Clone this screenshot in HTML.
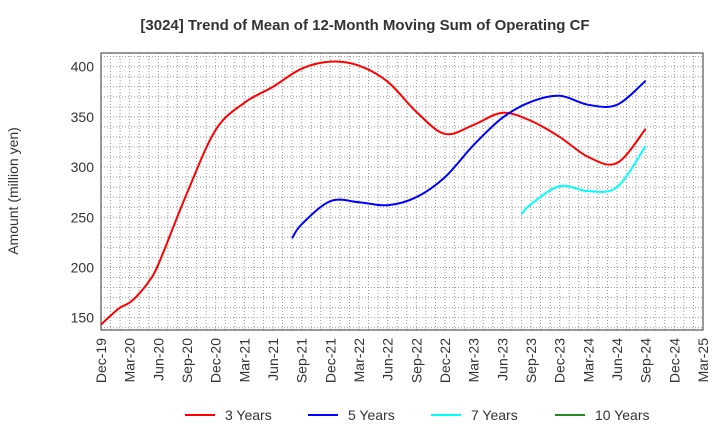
<!DOCTYPE html>
<html><head><meta charset="utf-8"><style>
body{margin:0;background:#fff;font-family:"Liberation Sans",sans-serif;}
svg text{font-family:"Liberation Sans",sans-serif;}
</style></head><body>
<svg id="chart" width="720" height="440">
<text x="365" y="30" text-anchor="middle" font-size="15" font-weight="bold" fill="#333">[3024]  Trend of Mean of 12-Month Moving Sum of Operating CF</text>
<text transform="translate(18,191) rotate(-90)" text-anchor="middle" font-size="14" fill="#333">Amount (million yen)</text>
<g id="grid"></g><g id="axes"></g><g id="series"></g><g id="legend"></g>
</svg>
<script>
const xLabels=["Dec-19","Mar-20","Jun-20","Sep-20","Dec-20","Mar-21","Jun-21","Sep-21","Dec-21","Mar-22","Jun-22","Sep-22","Dec-22","Mar-23","Jun-23","Sep-23","Dec-23","Mar-24","Jun-24","Sep-24","Dec-24","Mar-25"];
const yTicks=[150,200,250,300,350,400];
const m3=[0,1,2,3,4,5,6,9,12,15,18,21,24,27,30,33,36,39,42,45,48,51,54,57];
const v3=[143,152,160,165,174,186,203,274,337,364,380,398,405,401,385,355,333,342,354,346,330,310,304,338];
const m5=[20,21,24,27,30,33,36,39,42,45,48,51,54,57];
const v5=[229,243,266,265,262,270,290,322,349,365,371,362,362,386];
const m7=[44,45,48,51,54,57];
const v7=[253,263,281,276,280,321];
const seriesNames=["3 Years","5 Years","7 Years","10 Years"];
const colors=["#ff0000","#0000ff","#00ffff","#228b22"];
const L=101,R=703,T=53,B=330,VMIN=137.7,VMAX=413.6,MMAX=63;
const xs=m=>L+(R-L)*m/MMAX;
const ys=v=>B-(B-T)*(v-VMIN)/(VMAX-VMIN);
const NS="http://www.w3.org/2000/svg";
function mk(t,a,p){const e=document.createElementNS(NS,t);for(const k in a)e.setAttribute(k,a[k]);p.appendChild(e);return e;}
const grid=document.getElementById('grid'),axes=document.getElementById('axes'),ser=document.getElementById('series'),leg=document.getElementById('legend');
for(let m=1;m<MMAX;m++){const l=mk('line',{x1:xs(m),x2:xs(m),y1:T,y2:B,stroke:'#999','stroke-dasharray':'1,2','stroke-width':1},grid);

}
for(let v=140;v<=410;v+=10){const l=mk('line',{x1:L,x2:R,y1:ys(v),y2:ys(v),stroke:'#999','stroke-dasharray':'1,2','stroke-width':1},grid);

}
const fr=mk('rect',{x:L,y:T,width:R-L,height:B-T,fill:'none',stroke:'#333'},axes);


yTicks.forEach(v=>{const t=mk('text',{x:L-7,y:ys(v)+5,'text-anchor':'end','font-size':14,fill:'#333'},axes);t.textContent=v;

});
xLabels.forEach((s,i)=>{const x=xs(i*3);const t=mk('text',{transform:`translate(${x+5},${B+8}) rotate(-90)`,'text-anchor':'end','font-size':14,fill:'#333'},axes);t.textContent=s;

});
function path(ms,vs){const p=ms.map((m,i)=>[xs(m),ys(vs[i])]);let d=`M${p[0][0]},${p[0][1]}`;
for(let i=0;i<p.length-1;i++){const p0=p[i-1]||p[i],p1=p[i],p2=p[i+1],p3=p[i+2]||p2;
d+=` C${p1[0]+(p2[0]-p0[0])/6},${p1[1]+(p2[1]-p0[1])/6} ${p2[0]-(p3[0]-p1[0])/6},${p2[1]-(p3[1]-p1[1])/6} ${p2[0]},${p2[1]}`;}return d;}
[[m3,v3],[m5,v5],[m7,v7]].forEach((s,i)=>{const e=mk('path',{d:path(s[0],s[1]),fill:'none',stroke:colors[i],'stroke-width':2},ser);

});
const lx=[185,308,431,555];
seriesNames.forEach((n,i)=>{const g=mk('g',{},leg);


mk('line',{x1:lx[i],x2:lx[i]+30,y1:415,y2:415,stroke:colors[i],'stroke-width':2},g);
const t=mk('text',{x:lx[i]+40,y:420,'font-size':14,fill:'#333'},g);t.textContent=n;});
</script>
</body></html>
